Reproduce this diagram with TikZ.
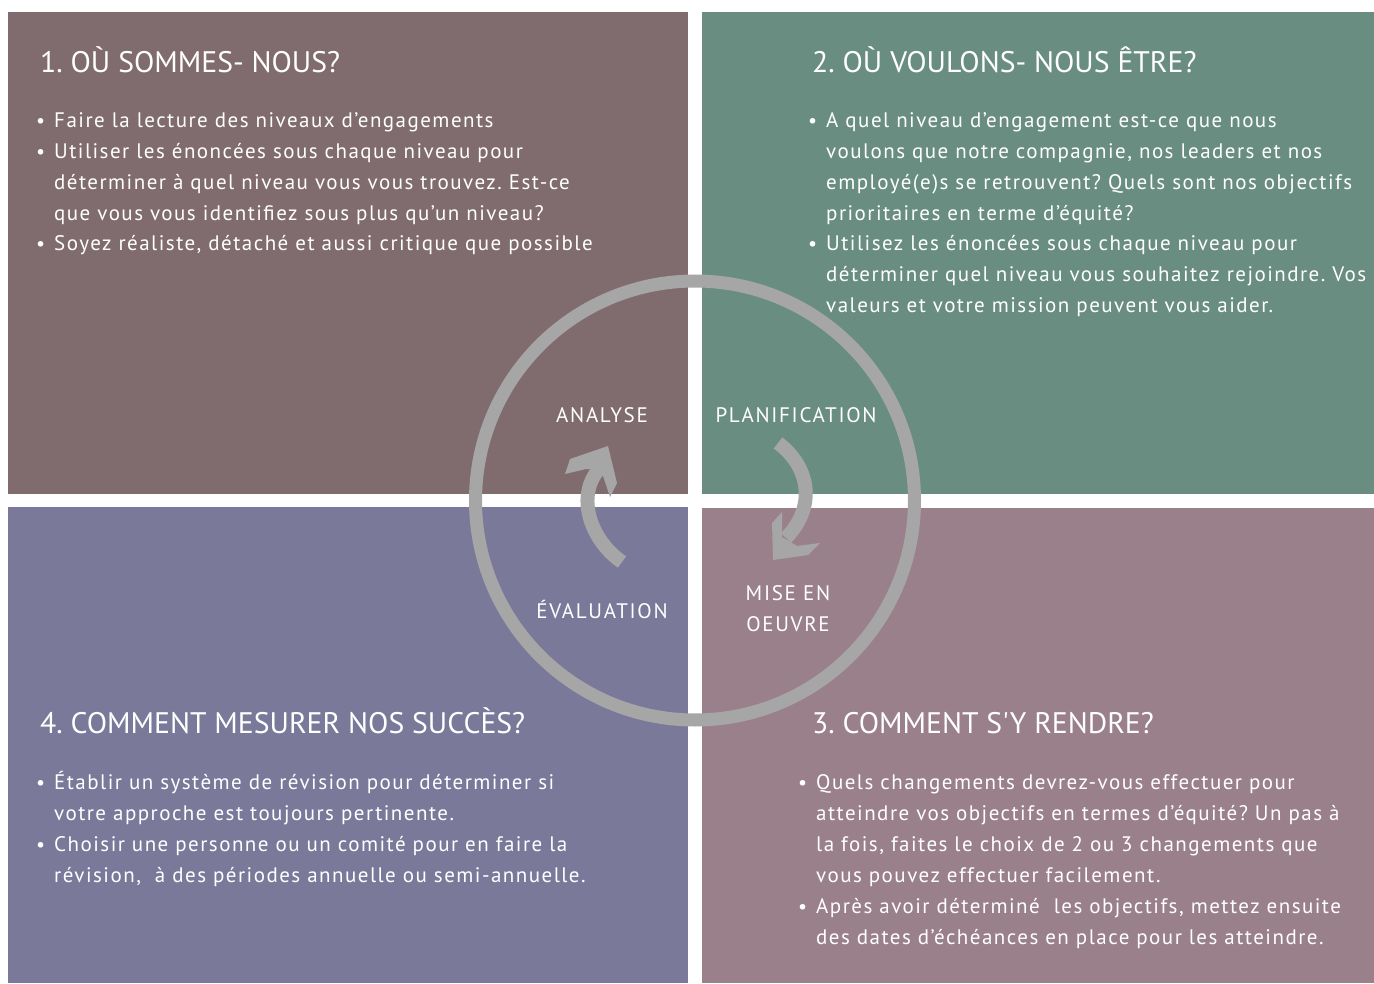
\documentclass[tikz,border=0pt]{standalone}
\usepackage{fontspec}
\setmainfont{PT Sans}
\newfontfamily\bodyfont[LetterSpace=7]{PT Sans}
\newfontfamily\labfont[LetterSpace=8]{PT Sans}
\newfontfamily\titlefont[Ligatures=TeXOff]{PT Sans}
\frenchspacing
\definecolor{cA}{HTML}{806C6E}
\definecolor{cB}{HTML}{698E81}
\definecolor{cC}{HTML}{7A799A}
\definecolor{cD}{HTML}{9A808A}
\definecolor{ringgray}{HTML}{A6A6A6}
\tikzset{
  title/.style={anchor=base west, inner sep=0pt, text=white, font=\titlefont\fontsize{29.7}{34}\selectfont},
  body/.style={anchor=base west, inner sep=0pt, text=white, text width=640pt, align=left, font=\bodyfont\fontsize{21}{31}\selectfont\frenchspacing},
  bul/.style={anchor=base west, inner sep=0pt, text=white, font=\fontsize{20}{31}\selectfont},
  lab/.style={inner sep=0pt, text=white, align=center, font=\labfont\fontsize{21}{31}\selectfont},
  ring/.style={draw=ringgray, line width=13pt},
  shaft/.style={draw=ringgray, line width=14pt},
  head/.style={fill=ringgray}
}
\begin{document}
\begin{tikzpicture}[x=1pt,y=-1pt]
\useasboundingbox (0,0) rectangle (1374,984);
\fill[white] (0,0) rectangle (1374,984);
\fill[cA] (8,12) rectangle (688,494);
\fill[cB] (702,12) rectangle (1374,494);
\fill[cC] (8,507) rectangle (688,983);
\fill[cD] (702,508) rectangle (1374,983);
% ring and arrows
\draw[ring] (695,500.5) circle[radius=219.5];
\draw[shaft] (778,443) .. controls (808,465) and (818,505) .. (786,538);
\fill[head] (782,512) -- (772,523) -- (773,560) -- (808,555) -- (820,543) -- (797,546) -- (782,537) -- cycle;
\draw[shaft] (622,562) .. controls (590,540) and (575,495) .. (600,468);
\fill[head] (608,446) -- (617,483) -- (610,497) -- (601,470) -- (586,469) -- (565,474) -- (570,459) -- cycle;
% box 1
\node[title] (t1) at (40,73) {1. OÙ SOMMES- NOUS?};
\node[bul] (b11) at (36,128) {•};
\node[body] (x11) at (54,128) {Faire la lecture des niveaux d’engagements};
\node[bul] (b12) at (36,159) {•};
\node[body] (x12) at (54,159) {Utiliser les énoncées sous chaque niveau pour\\déterminer à quel niveau vous vous trouvez. Est-ce\\que vous vous identifiez sous plus qu’un niveau?};
\node[bul] (b13) at (36,251) {•};
\node[body] (x13) at (54,251) {Soyez réaliste, détaché et aussi critique que possible};
% box 2
\node[title] (t2) at (812,73) {2. OÙ VOULONS- NOUS ÊTRE?};
\node[bul] (b21) at (808,128) {•};
\node[body] (x21) at (826,128) {A quel niveau d’engagement est-ce que nous\\voulons que notre compagnie, nos leaders et nos\\employé(e)s se retrouvent? Quels sont nos objectifs\\prioritaires en terme d’équité?};
\node[bul] (b22) at (808,251) {•};
\node[body] (x22) at (826,251) {Utilisez les énoncées sous chaque niveau pour\\déterminer quel niveau vous souhaitez rejoindre. Vos\\valeurs et votre mission peuvent vous aider.};
% box 4
\node[title] (t4) at (40,733) {4. COMMENT MESURER NOS SUCCÈS?};
\node[bul] (b41) at (36,789) {•};
\node[body] (x41) at (54,789) {Établir un système de révision pour déterminer si\\votre approche est toujours pertinente.};
\node[bul] (b42) at (36,851) {•};
\node[body] (x42) at (54,851) {Choisir une personne ou un comité pour en faire la\\révision,~ à des périodes annuelle ou semi-annuelle.};
% box 3
\node[title] (t3) at (812,733) {3. COMMENT S'Y RENDRE?};
\node[bul] (b31) at (798,789) {•};
\node[body] (x31) at (816,789) {Quels changements devrez-vous effectuer pour\\atteindre vos objectifs en termes d’équité? Un pas à\\la fois, faites le choix de 2 ou 3 changements que\\vous pouvez effectuer facilement.};
\node[bul] (b32) at (798,913) {•};
\node[body] (x32) at (816,913) {Après avoir déterminé~ les objectifs, mettez ensuite\\des dates d’échéances en place pour les atteindre.};
% centre labels
\node[lab] (la) at (602,415) {ANALYSE};
\node[lab] (lp) at (796,415) {PLANIFICATION};
\node[lab] (le) at (602,609) {ÉVALUATION};
\node[lab] (lm) at (788,609) {MISE EN\\OEUVRE};
\end{tikzpicture}
\end{document}
